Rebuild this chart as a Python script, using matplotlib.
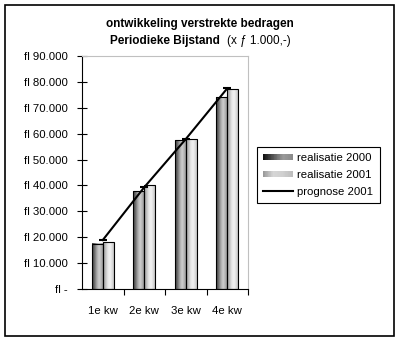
import numpy as np
import matplotlib.pyplot as plt
from matplotlib.patches import Rectangle
from matplotlib.legend_handler import HandlerBase
from matplotlib.lines import Line2D
from matplotlib.ticker import FixedLocator, FuncFormatter

plt.rcParams['font.family'] = ['Liberation Sans', 'DejaVu Sans']
plt.rcParams['font.size'] = 8

# bedragen x f 1.000,-
kwartalen = ['1e kw', '2e kw', '3e kw', '4e kw']
realisatie_2000 = [17400, 37800, 57500, 74100]
realisatie_2001 = [18100, 40100, 57900, 77100]
prognose_2001 = [18900, 39300, 57900, 77500]

# kleurverloop over de breedte van een staaf (links -> rechts)
verloop_2000 = ['#3c3c3c', '#6a6a6a', '#a8a8a8', '#cfcfcf', '#b0b0b0', '#8a8a8a']
verloop_2001 = ['#9a9a9a', '#bdbdbd', '#e6e6e6', '#f2f2f2', '#d8d8d8', '#b4b4b4']
# kleurverloop van de legendablokjes
legenda_2000 = ['#111111', '#555555', '#9a9a9a', '#8a8a8a']
legenda_2001 = ['#9a9a9a', '#d6d6d6', '#cfcfcf', '#bdbdbd']


def maak_kleuren(stops, n=40):
    rgb = np.array([[int(s[i:i + 2], 16) / 255 for i in (1, 3, 5)] for s in stops])
    t = np.linspace(0, 1, len(stops))
    tt = np.linspace(0, 1, n)
    return np.stack([np.interp(tt, t, rgb[:, k]) for k in range(3)], axis=1)


class VerloopHandler(HandlerBase):
    def __init__(self, kleuren):
        super().__init__()
        self.kleuren = kleuren

    def create_artists(self, legend, orig_handle, xdescent, ydescent,
                       width, height, fontsize, trans):
        n = len(self.kleuren)
        h = height * 0.75
        y0 = -ydescent + (height - h) / 2
        stukken = []
        for i, c in enumerate(self.kleuren):
            stukken.append(Rectangle((-xdescent + i * width / n, y0), width / n + 0.3, h,
                                     facecolor=c, edgecolor='none', transform=trans))
        return stukken


fig = plt.figure(figsize=(4.03, 3.42), dpi=100)
ax = fig.add_axes([82 / 403, 1 - 289 / 342, 166 / 403, 233 / 342])

x = np.arange(len(kwartalen))
breedte = 0.27

for reeks, stops, dx in [(realisatie_2000, verloop_2000, -breedte / 2),
                         (realisatie_2001, verloop_2001, breedte / 2)]:
    kleuren = maak_kleuren(stops)
    staven = ax.bar(x + dx, reeks, breedte, facecolor='none', edgecolor='black',
                    linewidth=0.8, zorder=3)
    for st in staven:
        x0, y0 = st.get_x(), st.get_y()
        ax.imshow(kleuren[np.newaxis, :, :], extent=(x0, x0 + st.get_width(), y0, y0 + st.get_height()),
                  aspect='auto', interpolation='bilinear', zorder=2)

ax.plot(x, prognose_2001, color='black', linewidth=1.5, marker='_', markersize=6,
        markeredgewidth=1.5, zorder=4)

ax.set_xlim(-0.5, 3.5)
ax.set_ylim(0, 90000)

ax.yaxis.set_major_locator(FixedLocator(np.arange(0, 90001, 10000)))
ax.yaxis.set_major_formatter(FuncFormatter(
    lambda v, p: 'fl -' if v == 0 else 'fl {:,.0f}'.format(v).replace(',', '.')))
ax.tick_params(axis='y', direction='inout', length=7, width=0.8, pad=7, labelsize=8.2)

ax.set_xticks(x)
ax.set_xticklabels(kwartalen)
ax.set_xticks(np.arange(0.5, 4, 1), minor=True)
ax.tick_params(axis='x', which='major', length=0, pad=12, labelsize=8.2)
ax.tick_params(axis='x', which='minor', direction='out', length=4, width=0.8)

for kant in ['top', 'right']:
    ax.spines[kant].set_color('#c0c0c0')
    ax.spines[kant].set_linewidth(0.8)
for kant in ['left', 'bottom']:
    ax.spines[kant].set_linewidth(0.8)

# titel
fig.text(200 / 403, 1 - 24 / 342, 'ontwikkeling verstrekte bedragen', ha='center', va='center',
         fontsize=8.5, fontweight='bold')
fig.text(110 / 403, 1 - 41 / 342, 'Periodieke Bijstand', ha='left', va='center',
         fontsize=8.5, fontweight='bold')
fig.text(227 / 403, 1 - 41 / 342, '(x ƒ 1.000,-)', ha='left', va='center', fontsize=8.5)

# legenda
h2000 = Rectangle((0, 0), 1, 1)
h2001 = Rectangle((0, 0), 1, 1)
hprog = Line2D([], [], color='black', linewidth=1.5)
leg = fig.legend([h2000, h2001, hprog], ['realisatie 2000', 'realisatie 2001', 'prognose 2001'],
                 loc='upper left', bbox_to_anchor=(257 / 403, 1 - 147 / 342),
                 handler_map={h2000: VerloopHandler(maak_kleuren(legenda_2000)),
                              h2001: VerloopHandler(maak_kleuren(legenda_2001))},
                 fancybox=False, framealpha=1, edgecolor='black', fontsize=8.2,
                 handlelength=2.6, handletextpad=0.4, borderpad=0.55, labelspacing=0.6,
                 borderaxespad=0)
leg.get_frame().set_linewidth(0.8)

# kader om de hele figuur
fig.patches.append(Rectangle((5 / 403, 1 - 336 / 342), 389 / 403, 331 / 342,
                             transform=fig.transFigure, fill=False, edgecolor='black',
                             linewidth=1.2))

fig.savefig('out.png', dpi=100)
